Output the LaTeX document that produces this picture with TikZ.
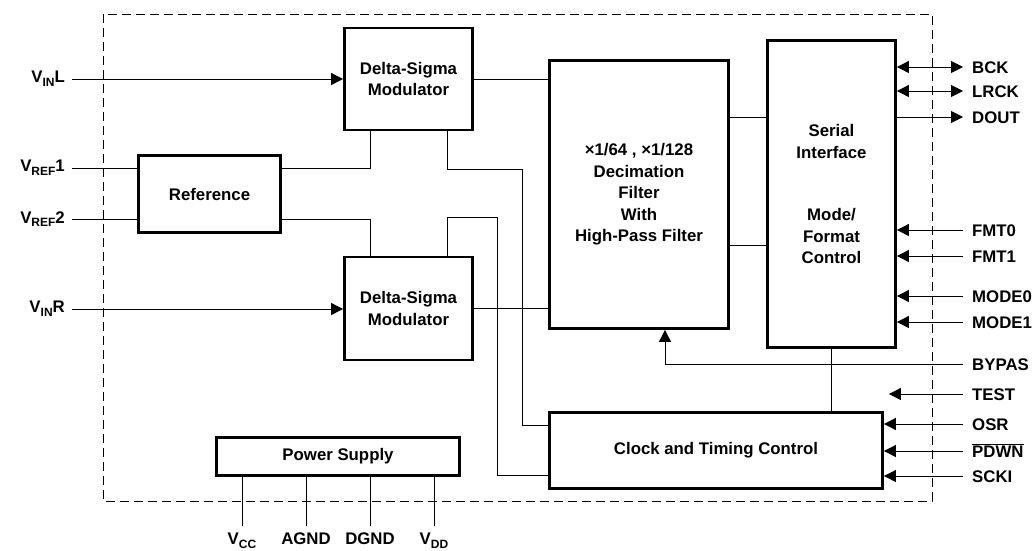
\documentclass[tikz,border=0pt]{standalone}
\usepackage{fontspec}
\setmainfont{Liberation Sans}
\usetikzlibrary{arrows.meta,positioning,calc}
\newcommand{\lowtxt}[1]{\raisebox{-0.22em}{\fontsize{12}{13}\selectfont #1}}

\begin{document}
\begin{tikzpicture}[x=1pt,y=-1pt,>={Triangle[length=12pt,width=12pt]},
  font=\fontsize{16.8}{21.5}\selectfont\bfseries,
  blk/.style={draw,line width=2.8pt,align=center,inner sep=0pt},
  wire/.style={line width=0.9pt},
  pinr/.style={anchor=west,inner xsep=9pt,inner ysep=0pt,text height=12pt,text depth=0pt},
  pinl/.style={anchor=east,inner xsep=7pt,inner ysep=0pt},
  pinb/.style={anchor=north,inner xsep=0pt,inner ysep=7pt}]
  \useasboundingbox (0,0) rectangle (1034,550);
  % chip outline
  \draw[wire,dash pattern=on 9pt off 5pt] (103,14) rectangle (932,501);

  % blocks
  \node[blk,minimum width=128pt,minimum height=102pt] (dsL) at (408.5,79) {Delta-Sigma\\Modulator};
  \node[blk,minimum width=128pt,minimum height=103pt] (dsR) at (408.5,308.5) {Delta-Sigma\\Modulator};
  \node[blk,minimum width=142pt,minimum height=77pt] (ref) at (209.5,194) {Reference};
  \node[blk,minimum width=179pt,minimum height=268pt] (dec) at (639,194.5)
    {×1/64 , ×1/128\\Decimation\\Filter\\With\\High-Pass Filter};
  \node[blk,minimum width=128pt,minimum height=307pt] (ser) at (831.5,194)
    {Serial\\Interface\\[41pt]Mode/\\Format\\Control};
  \node[blk,minimum width=333pt,minimum height=76pt] (clk) at (716,450.5) {Clock and Timing Control};
  \node[blk,minimum width=243pt,minimum height=38pt] (psu) at (338,456.5) {Power Supply};

  % left pins
  \node[pinl] (vinl) at (72,79) {V\lowtxt{IN}L};
  \node[pinl] (vref1) at (72,168) {V\lowtxt{REF}1};
  \node[pinl] (vref2) at (72,219) {V\lowtxt{REF}2};
  \node[pinl] (vinr) at (72,309) {V\lowtxt{IN}R};
  \draw[wire,->] (vinl.east) -- (dsL.west);
  \draw[wire,->] (vinr.east) -- (dsR.west |- vinr.east);
  \draw[wire] (vref1.east) -- (ref.west |- vref1.east);
  \draw[wire] (vref2.east) -- (ref.west |- vref2.east);

  % internal wiring
  \draw[wire] (ref.east |- vref1.east) -| ($(dsL.south)+(-38.5,0)$);
  \draw[wire] (ref.east |- vref2.east) -| ($(dsR.north)+(-38.5,0)$);
  \draw[wire] ($(dsL.south)+(38.5,0)$) -- ++(0,38) -| ($(clk.west)+(-26,-25.5)$) -- ($(clk.west)+(0,-25.5)$);
  \draw[wire] ($(dsR.north)+(38.5,0)$) -- ++(0,-38) -| ($(clk.west)+(-51,24.5)$) -- ($(clk.west)+(0,24.5)$);
  \draw[wire] (dsL.east) -- (dec.west |- dsL.east);
  \draw[wire] (dsR.east) -- (dec.west |- dsR.east);
  \draw[wire] ($(dec.east)+(0,-77.5)$) -- ($(ser.west)+(0,-77)$);
  \draw[wire] ($(dec.east)+(0,50.5)$) -- ($(ser.west)+(0,51)$);
  \draw[wire] ($(dec.south)+(-26,0)$) -- ($(dec.south)+(-26,0)$ |- clk.north);
  \draw[wire] (ser.south) -- (ser.south |- clk.north);

  % right pins
  \node[pinr] (bck) at (963,67) {BCK};
  \node[pinr] (lrck) at (963,91) {LRCK};
  \node[pinr] (dout) at (963,117) {DOUT};
  \node[pinr] (fmt0) at (963,230) {FMT0};
  \node[pinr] (fmt1) at (963,256) {FMT1};
  \node[pinr] (mode0) at (963,296) {MODE0};
  \node[pinr] (mode1) at (963,322) {MODE1};
  \node[pinr] (bypas) at (963,364) {BYPAS};
  \node[pinr] (test) at (963,394) {TEST};
  \node[pinr] (osr) at (963,424) {OSR};
  \node[pinr] (pdwn) at (963,451) {$\overline{\mbox{PDWN}}$};
  \node[pinr] (scki) at (963,476) {SCKI};
  \draw[wire,<->] (ser.east |- bck.west) -- (bck.west);
  \draw[wire,<->] (ser.east |- lrck.west) -- (lrck.west);
  \draw[wire,->] (ser.east |- dout.west) -- (dout.west);
  \foreach \p in {fmt0,fmt1,mode0,mode1}
    \draw[wire,->] (\p.west) -- (ser.east |- \p.west);
  \foreach \p in {osr,pdwn,scki}
    \draw[wire,->] (\p.west) -- (clk.east |- \p.west);
  \draw[wire,->] (bypas.west) -| (dec.south -| 665,0);
  \draw[wire,->] (test.west) -- ($(test.west -| clk.east)+(5,0)$);

  % supply pins
  \node[pinb] (vcc) at (242,526) {V\lowtxt{CC}};
  \node[pinb] (agnd) at (306,526) {AGND};
  \node[pinb] (dgnd) at (370,526) {DGND};
  \node[pinb] (vdd) at (434,526) {V\lowtxt{DD}};
  \foreach \p in {vcc,agnd,dgnd,vdd}
    \draw[wire] (psu.south -| \p.north) -- (\p.north);
\end{tikzpicture}
\end{document}
